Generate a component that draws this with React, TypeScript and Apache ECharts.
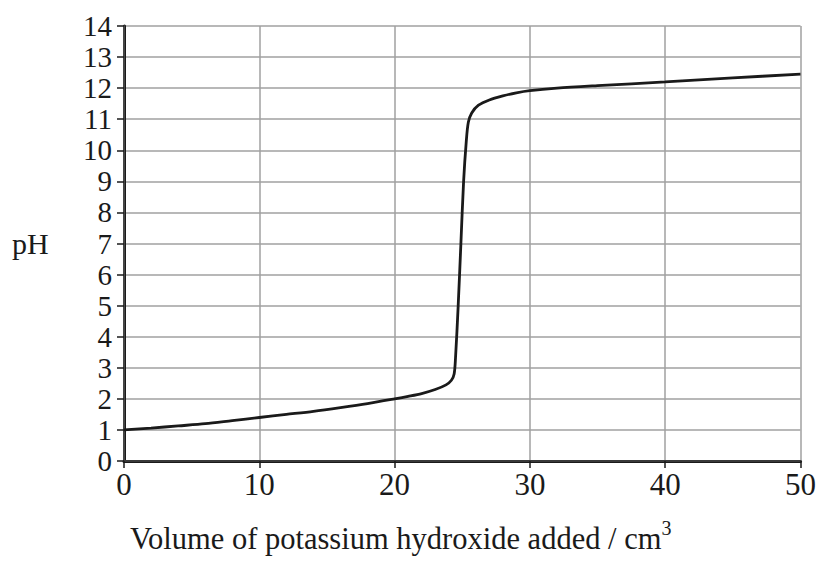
import React, { useEffect, useRef } from "react";
import * as echarts from "echarts";

const volume: number[] = [0, 2, 4, 6, 8, 10, 12, 14, 16, 18, 20, 21, 22, 23, 23.8, 24.2, 24.4, 24.5, 24.7, 24.9, 25.1, 25.3, 25.45, 25.7, 26.2, 27, 28, 29, 30, 32, 35, 40, 45, 50];
const ph: number[] = [1.0, 1.06, 1.13, 1.2, 1.3, 1.4, 1.5, 1.6, 1.72, 1.85, 2.0, 2.08, 2.17, 2.3, 2.45, 2.6, 2.8, 3.3, 5.0, 7.0, 9.0, 10.3, 10.9, 11.2, 11.45, 11.62, 11.75, 11.85, 11.92, 12.0, 12.08, 12.2, 12.33, 12.45];
const xTitleMain = "Volume of potassium hydroxide added / cm";
const xTitleSup = "3";
const yTitle = "pH";

const FONT = "Liberation Serif";

export default function App() {
  const ref = useRef<HTMLDivElement>(null);
  useEffect(() => {
    if (!ref.current) return;
    const chart = echarts.init(ref.current, null, { renderer: "svg" });
    const data = volume.map((v, i) => [v, ph[i]]);
    chart.setOption({
      animation: false,
      backgroundColor: "#ffffff",
      grid: { left: 124, top: 26, right: 14, bottom: 117 },
      xAxis: [
        {
          type: "value",
          min: 0,
          max: 50,
          interval: 10,
          position: "bottom",
          axisLine: { show: true, lineStyle: { color: "#1a1a1a", width: 3 } },
          axisTick: { show: true, length: 7, lineStyle: { color: "#1a1a1a", width: 1.5 } },
          axisLabel: { color: "#1a1a1a", fontFamily: FONT, fontSize: 31, margin: 8 },
          splitLine: { show: true, lineStyle: { color: "#a0a0a0", width: 1.5 } },
        },
        {
          type: "value",
          min: 0,
          max: 50,
          position: "top",
          axisLine: { show: true, lineStyle: { color: "#444", width: 1.5 } },
          axisTick: { show: false },
          axisLabel: { show: false },
          splitLine: { show: false },
        },
      ],
      yAxis: [
        {
          type: "value",
          min: 0,
          max: 14,
          interval: 1,
          position: "left",
          axisLine: { show: true, lineStyle: { color: "#1a1a1a", width: 3 } },
          axisTick: { show: true, length: 7, lineStyle: { color: "#1a1a1a", width: 1.5 } },
          axisLabel: { color: "#1a1a1a", fontFamily: FONT, fontSize: 29, margin: 12 },
          splitLine: { show: true, lineStyle: { color: "#a0a0a0", width: 1.5 } },
        },
        {
          type: "value",
          min: 0,
          max: 14,
          position: "right",
          axisLine: { show: true, lineStyle: { color: "#555", width: 1.5 } },
          axisTick: { show: false },
          axisLabel: { show: false },
          splitLine: { show: false },
        },
      ],
      graphic: [
        {
          type: "text",
          left: 130,
          top: 518,
          style: {
            text: "{m|" + xTitleMain + "}{s|" + xTitleSup + "}",
            rich: {
              m: { fontFamily: FONT, fontSize: 30.5, fill: "#1a1a1a", color: "#1a1a1a", lineHeight: 36, verticalAlign: "bottom" },
              s: { fontFamily: FONT, fontSize: 20, fill: "#1a1a1a", color: "#1a1a1a", lineHeight: 36, verticalAlign: "top" },
            },
          },
        },
        {
          type: "text",
          left: 12,
          top: 228,
          style: { text: yTitle, fontFamily: FONT, fontSize: 30, fill: "#1a1a1a" },
        },
      ],
      series: [
        {
          type: "line",
          data,
          showSymbol: false,
          smooth: 0.3,
          lineStyle: { color: "#1a1a1a", width: 2.8 },
          z: 5,
        },
      ],
    });
    return () => chart.dispose();
  }, []);
  return (
    <div
      ref={ref}
      style={{ position: "fixed", left: 0, top: 0, width: 819, height: 578, background: "#fff" }}
    />
  );
}
